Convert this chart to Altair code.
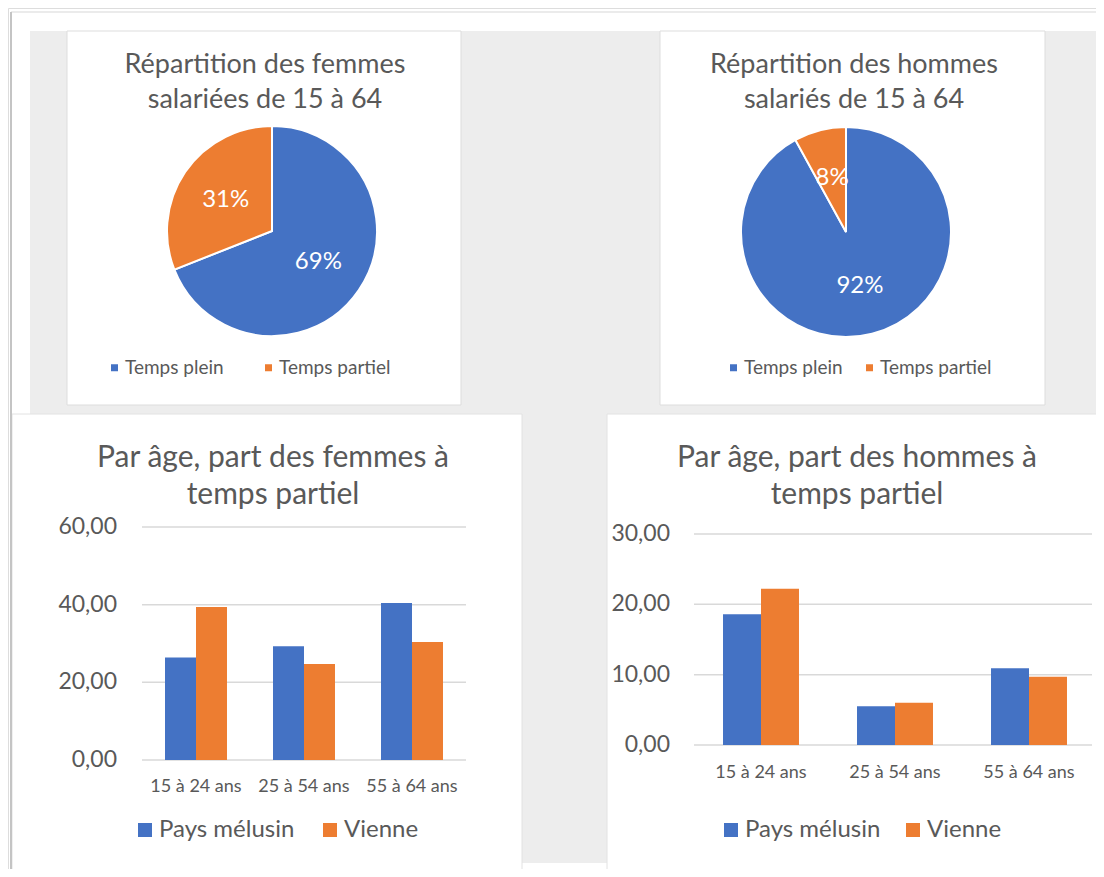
import altair as alt
import pandas as pd

# ---------------- data ----------------
pie_cats = ["Temps plein", "Temps partiel"]
femmes_share = [69, 31]
hommes_share = [92, 8]

ages = ["15 à 24 ans", "25 à 54 ans", "55 à 64 ans"]
series = ["Pays mélusin", "Vienne"]
femmes_pays = [26.4, 29.3, 40.4]
femmes_vienne = [39.4, 24.7, 30.4]
hommes_pays = [18.6, 5.5, 10.9]
hommes_vienne = [22.2, 6.0, 9.7]
femmes_ticks = [0, 20, 40, 60]
hommes_ticks = [0, 10, 20, 30]

titles = {
    "pie_f": ["Répartition des femmes", "salariées de 15 à 64"],
    "pie_h": ["Répartition des hommes", "salariés de 15 à 64"],
    "bar_f": ["Par âge, part des femmes à", "temps partiel"],
    "bar_h": ["Par âge, part des hommes à", "temps partiel"],
}

# ---------------- style ----------------
FONT = "Lato"
BLUE = "#4472C4"
ORANGE = "#ED7D31"
TXT = "#595959"
GRID = "#D9D9D9"
BG = "#EDEDED"
W, H = 1088, 861

dummy = pd.DataFrame({"a": [1]})


def pie_df(shares):
    return pd.DataFrame({
        "cat": pie_cats,
        "val": shares,
        "idx": list(range(len(pie_cats))),
        "label": [f"{v}%" for v in shares],
    })


def bar_df(pays, vienne):
    rows = []
    for a, p, v in zip(ages, pays, vienne):
        rows.append({"age": a, "serie": series[0], "val": p})
        rows.append({"age": a, "serie": series[1], "val": v})
    return pd.DataFrame(rows)


def tick_df(ticks):
    return pd.DataFrame({"v": ticks, "lab": [f"{t:.2f}".replace(".", ",") for t in ticks]})


def rect(x, x2, y, y2, fill, stroke=None):
    kw = dict(fill=fill)
    if stroke:
        kw.update(stroke=stroke, strokeWidth=1)
    return alt.Chart(dummy).mark_rect(**kw).encode(
        x=alt.value(x), x2=alt.value(x2), y=alt.value(y), y2=alt.value(y2))


def line(x, x2, y, y2, color, w):
    return alt.Chart(dummy).mark_rule(color=color, strokeWidth=w).encode(
        x=alt.value(x), x2=alt.value(x2), y=alt.value(y), y2=alt.value(y2))


def title(lines, x, y, size, lh):
    return alt.Chart(dummy).mark_text(
        text=lines, font=FONT, fontSize=size, color=TXT, align="center",
        baseline="alphabetic", lineHeight=lh).encode(x=alt.value(x), y=alt.value(y))


def pie(shares, cx, cy, lx, ly, colpad):
    base = alt.Chart(pie_df(shares))
    arc = base.mark_arc(radius=105, stroke="white", strokeWidth=2).encode(
        theta=alt.Theta("val:Q", stack=True),
        order=alt.Order("idx:Q"),
        color=alt.Color(
            "cat:N",
            scale=alt.Scale(domain=pie_cats, range=[BLUE, ORANGE]),
            legend=alt.Legend(
                title=None, orient="none", legendX=lx, legendY=ly,
                direction="horizontal", symbolType="square", symbolSize=49,
                symbolStrokeWidth=0, labelOffset=1, columnPadding=colpad,
                labelFont=FONT, labelFontSize=19, labelColor=TXT)),
        x=alt.value(cx), y=alt.value(cy))
    txt = base.mark_text(radius=56, font=FONT, fontSize=24, color="white").encode(
        theta=alt.Theta("val:Q", stack=True),
        order=alt.Order("idx:Q"),
        text="label:N",
        x=alt.value(cx), y=alt.value(cy))
    return [arc, txt]


def bars(pays, vienne, ticks, xrange, pin, yrange, gx, gx2, tick_x, cat_y, lx, ly, colpad):
    xscale = alt.Scale(domain=ages, range=xrange, paddingInner=pin, paddingOuter=pin / 2)
    yscale = alt.Scale(domain=[ticks[0], ticks[-1]], range=yrange, nice=False)
    tdf = tick_df(ticks)
    grid = alt.Chart(tdf).mark_rule(color=GRID, strokeWidth=1.5).encode(
        y=alt.Y("v:Q", scale=yscale, axis=None),
        x=alt.value(gx), x2=alt.value(gx2))
    ylab = alt.Chart(tdf).mark_text(
        align="right", baseline="middle", font=FONT, fontSize=23, color=TXT).encode(
        y=alt.Y("v:Q", scale=yscale, axis=None),
        x=alt.value(tick_x), text="lab:N")
    b = alt.Chart(bar_df(pays, vienne)).mark_bar().encode(
        x=alt.X("age:N", scale=xscale, axis=None),
        xOffset=alt.XOffset("serie:N", scale=alt.Scale(domain=series, paddingInner=0, paddingOuter=0)),
        y=alt.Y("val:Q", scale=yscale, axis=None),
        color=alt.Color(
            "serie:N",
            scale=alt.Scale(domain=series, range=[BLUE, ORANGE]),
            legend=alt.Legend(
                title=None, orient="none", legendX=lx, legendY=ly,
                direction="horizontal", symbolType="square", symbolSize=196,
                symbolStrokeWidth=0, labelOffset=2, columnPadding=colpad,
                labelFont=FONT, labelFontSize=24, labelColor=TXT)))
    cat = alt.Chart(pd.DataFrame({"age": ages})).mark_text(
        font=FONT, fontSize=18, color=TXT, baseline="middle").encode(
        x=alt.X("age:N", scale=xscale, axis=None),
        y=alt.value(cat_y), text="age:N")
    return [grid, b, ylab, cat]


layers = [
    # backdrop
    rect(22, 1090, 23, 855, BG),
    rect(59, 453, 23, 397, "white", "#DDDDDD"),
    rect(652, 1037, 23, 397, "white", "#DDDDDD"),
    rect(4, 514, 406, 870, "white", "#E2E2E2"),
    rect(599, 1100, 406, 870, "white", "#E2E2E2"),
    line(3, 1088, 4, 4, "#E4E4E4", 1.5),
    line(3, 3, 4, 861, "#C4C4C4", 2),
    # titles
    title(titles["pie_f"], 257, 65, 27, 35),
    title(titles["pie_h"], 846, 65, 27, 35),
    title(titles["bar_f"], 265, 459, 30, 37),
    title(titles["bar_h"], 849, 459, 30, 37),
]
layers += pie(femmes_share, 264, 223, 97, 350, 35)
layers += pie(hommes_share, 838, 224, 716, 350, 17)
layers += bars(femmes_pays, femmes_vienne, femmes_ticks, [134, 458], 0.426, [752, 519],
               134, 458, 109, 779, 125, 810, 23)
layers += bars(hommes_pays, hommes_vienne, hommes_ticks, [686, 1088], 0.433, [737, 526],
               686, 1084, 662, 765, 711, 810, 20)

chart = alt.layer(*layers).resolve_scale(
    x="independent", y="independent", color="independent",
    theta="independent", xOffset="independent",
).resolve_legend(color="independent").properties(
    width=W, height=H, padding=0,
    autosize=alt.AutoSizeParams(type="none"),
).configure_view(stroke=None).configure(background="white")

chart.save("out.html", embed_options={"renderer": "svg", "actions": False})
